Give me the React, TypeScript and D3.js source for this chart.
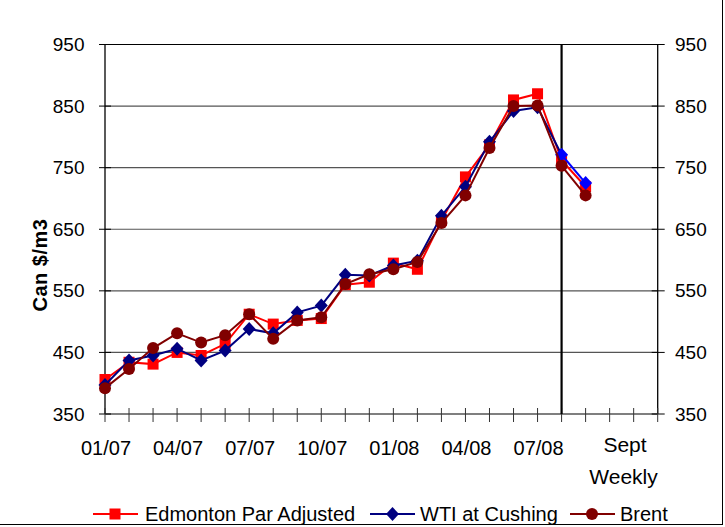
import React from "react";
import * as d3 from "d3";

const periods = [
  "01/07","02/07","03/07","04/07","05/07","06/07","07/07","08/07","09/07","10/07",
  "11/07","12/07","01/08","02/08","03/08","04/08","05/08","06/08","07/08","08/08","Sept wk",
];
const edmonton = [406,434,431,450,445,464,512,496,502,505,560,564,595,585,664,735,787,860,870,762,719];
const wti = [397,437,445,456,437,453,488,481,515,526,576,575,591,599,672,719,792,842,848,771,725];
const brent = [392,423,457,481,466,478,512,472,502,507,561,577,585,597,660,705,782,850,851,753,705];
const xTickLabels = ["01/07","04/07","07/07","10/07","01/08","04/08","07/08"];
const yTicks = [350,450,550,650,750,850,950];
const weeklyStart = 19;
const slotCount = 23;

const W = 725, H = 527;
const font = "'Liberation Sans', Arial, sans-serif";

export default function App() {
  const x = d3.scaleLinear().domain([0, slotCount]).range([105, 657.7]);
  const y = d3.scaleLinear().domain([350, 950]).range([414, 44.5]);
  const line = d3.line<number>().x((_, i) => x(i)).y((v) => y(v));

  const monthly = (arr: number[]) => arr.slice(0, weeklyStart + 1);
  const weekly = (arr: number[]) => arr.slice(weeklyStart);
  const lineW = (arr: number[]) =>
    d3.line<number>().x((_, i) => x(i + weeklyStart)).y((v) => y(v))(arr) || "";

  const sq = (cx: number, cy: number, c: string, k: string) => (
    <rect key={k} x={cx - 5.5} y={cy - 5.5} width={11} height={11} fill={c} />
  );
  const dia = (cx: number, cy: number, c: string, k: string) => (
    <path key={k} d={`M${cx},${cy - 7}L${cx + 6.5},${cy}L${cx},${cy + 7}L${cx - 6.5},${cy}Z`} fill={c} />
  );
  const circ = (cx: number, cy: number, c: string, k: string) => (
    <circle key={k} cx={cx} cy={cy} r={6} fill={c} />
  );

  const slots = d3.range(0, slotCount + 1);
  const left = x(0), right = x(slotCount), bottom = y(350), top = y(950);

  return (
    <svg width={W} height={H} style={{ position: "absolute", left: 0, top: 0, background: "#fff" }}>
      <line x1={722.5} x2={722.5} y1={0} y2={525} stroke="#000" strokeWidth={1} />
      <line x1={0} x2={723} y1={524.5} y2={524.5} stroke="#000" strokeWidth={1} />
      {/* gridlines */}
      {yTicks.map((t) => (
        <line key={"g" + t} x1={left} x2={right} y1={y(t)} y2={y(t)} stroke={t === 950 || t === 350 ? "#000" : "#555"} strokeWidth={1.2} />
      ))}
      {/* axes */}
      <line x1={left} x2={left} y1={top} y2={bottom} stroke="#000" strokeWidth={1.3} />
      <line x1={right} x2={right} y1={top} y2={bottom} stroke="#000" strokeWidth={1.3} />
      {yTicks.map((t) => (
        <g key={"yt" + t}>
          <line x1={left - 6} x2={left + 6} y1={y(t)} y2={y(t)} stroke="#000" />
          <line x1={right - 6} x2={right + 7} y1={y(t)} y2={y(t)} stroke="#000" />
          <text x={84.5} y={y(t) + 6.5} textAnchor="end" fontFamily={font} fontSize={19}>{t}</text>
          <text x={675} y={y(t) + 6.5} textAnchor="start" fontFamily={font} fontSize={19}>{t}</text>
        </g>
      ))}
      {slots.map((s) => (
        <line key={"xt" + s} x1={x(s)} x2={x(s)} y1={bottom - 6} y2={bottom + 8} stroke="#333" />
      ))}
      {xTickLabels.map((l, i) => (
        <text key={l} x={x(i * 3) + 1} y={455} textAnchor="middle" fontFamily={font} fontSize={20}>{l}</text>
      ))}
      <text x={625} y={452} textAnchor="middle" fontFamily={font} fontSize={21}>Sept</text>
      <text x={623.5} y={484} textAnchor="middle" fontFamily={font} fontSize={21}>Weekly</text>
      {/* separator */}
      <line x1={x(weeklyStart)} x2={x(weeklyStart)} y1={top} y2={bottom} stroke="#000" strokeWidth={2.2} />
      {/* series */}
      <path d={line(monthly(edmonton)) || ""} fill="none" stroke="#FF0000" strokeWidth={2} />
      <path d={lineW(weekly(edmonton))} fill="none" stroke="#FF0000" strokeWidth={2} />
      {edmonton.map((v, i) => sq(x(i), y(v), "#FF0000", "e" + i))}
      <path d={line(monthly(wti)) || ""} fill="none" stroke="#000080" strokeWidth={2} />
      <path d={lineW(weekly(wti))} fill="none" stroke="#0000FF" strokeWidth={2} />
      {wti.map((v, i) => dia(x(i), y(v), i >= weeklyStart ? "#0000FF" : "#000080", "w" + i))}
      <path d={line(monthly(brent)) || ""} fill="none" stroke="#800000" strokeWidth={2} />
      <path d={lineW(weekly(brent))} fill="none" stroke="#800000" strokeWidth={2} />
      {brent.map((v, i) => circ(x(i), y(v), "#800000", "b" + i))}
      {/* y title */}
      <text transform="translate(47,265) rotate(-90)" textAnchor="middle" fontFamily={font} fontSize={20} fontWeight="bold" letterSpacing={0.5}>Can $/m3</text>
      {/* legend */}
      <g>
        <line x1={93} x2={138} y1={514} y2={514} stroke="#FF0000" strokeWidth={2} />
        {sq(115, 514, "#FF0000", "le")}
        <text x={145} y={521} fontFamily={font} fontSize={20}>Edmonton Par Adjusted</text>
        <line x1={370} x2={415} y1={514} y2={514} stroke="#000080" strokeWidth={2} />
        {dia(392.5, 514, "#000080", "lw")}
        <text x={420} y={521} fontFamily={font} fontSize={20}>WTI at Cushing</text>
        <line x1={570} x2={615} y1={514} y2={514} stroke="#800000" strokeWidth={2} />
        {circ(592, 514, "#800000", "lb")}
        <text x={620} y={521} fontFamily={font} fontSize={20}>Brent</text>
      </g>
    </svg>
  );
}
